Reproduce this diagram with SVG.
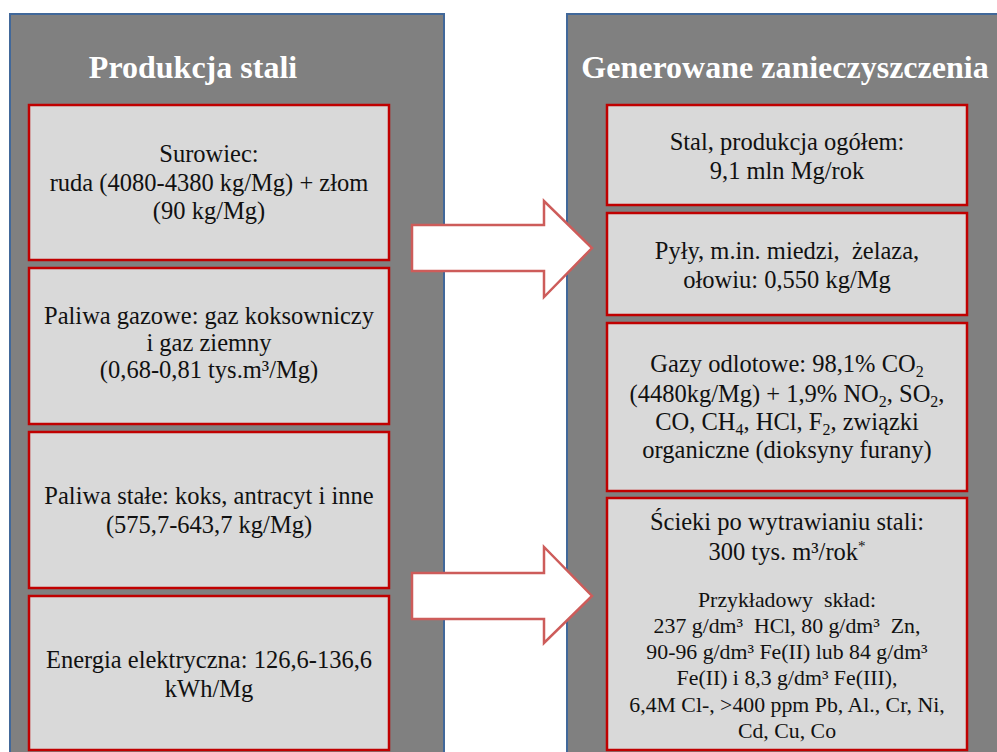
<svg xmlns="http://www.w3.org/2000/svg" width="997" height="752" viewBox="0 0 997 752">
<style>
.panel{fill:#808080;stroke:#41689a;stroke-width:2}
.box{fill:#d9d9d9;stroke:#c00000;stroke-width:2.5}
.title{font-family:"Liberation Serif","Times New Roman",serif;font-weight:bold;font-size:32px;fill:#ffffff;text-anchor:middle}
.t{font-family:"Liberation Serif","Times New Roman",serif;font-size:24.5px;fill:#111;text-anchor:middle}
.s{font-family:"Liberation Serif","Times New Roman",serif;font-size:21.8px;fill:#111;text-anchor:middle}
.arrow{fill:#ffffff;stroke:#cd5c5a;stroke-width:2.5;stroke-linejoin:miter}
</style>
<rect width="997" height="752" fill="#ffffff"/>
<g id="panel-left">
<rect class="panel" x="10" y="14" width="434" height="750"/>
<text class="title" x="193" y="78">Produkcja stali</text>
</g>
<g id="panel-right">
<rect class="panel" x="567" y="14" width="440" height="750"/>
<text class="title" x="785" y="78">Generowane zanieczyszczenia</text>
</g>
<g id="surowiec">
<rect class="box" x="29" y="105" width="360" height="155"/>
<text class="t" x="209" y="162">Surowiec:</text>
<text class="t" x="209" y="191">ruda (4080-4380 kg/Mg) + złom</text>
<text class="t" x="209" y="219">(90 kg/Mg)</text>
</g>
<g id="paliwa-gazowe">
<rect class="box" x="29" y="268" width="360" height="156"/>
<text class="t" x="209" y="324">Paliwa gazowe: gaz koksowniczy</text>
<text class="t" x="209" y="351">i gaz ziemny</text>
<text class="t" x="209" y="378">(0,68-0,81 tys.m³/Mg)</text>
</g>
<g id="paliwa-stale">
<rect class="box" x="29" y="432" width="360" height="156"/>
<text class="t" x="209" y="504">Paliwa stałe: koks, antracyt i inne</text>
<text class="t" x="209" y="533">(575,7-643,7 kg/Mg)</text>
</g>
<g id="energia">
<rect class="box" x="29" y="596" width="360" height="154"/>
<text class="t" x="209" y="668">Energia elektryczna: 126,6-136,6</text>
<text class="t" x="209" y="697">kWh/Mg</text>
</g>
<g id="stal">
<rect class="box" x="607" y="105" width="360" height="100"/>
<text class="t" x="787" y="150">Stal, produkcja ogółem:</text>
<text class="t" x="787" y="179">9,1 mln Mg/rok</text>
</g>
<g id="pyly">
<rect class="box" x="607" y="213" width="360" height="102"/>
<text class="t" x="787" y="259">Pyły, m.in. miedzi,&#160; żelaza,</text>
<text class="t" x="787" y="288">ołowiu: 0,550 kg/Mg</text>
</g>
<g id="gazy">
<rect class="box" x="607" y="323" width="360" height="168"/>
<text class="t" x="787" y="372">Gazy odlotowe: 98,1% CO<tspan font-size="16" dy="5">2</tspan></text>
<text class="t" x="787" y="402">(4480kg/Mg) + 1,9% NO<tspan font-size="16" dy="5">2</tspan><tspan dy="-5">, SO</tspan><tspan font-size="16" dy="5">2</tspan><tspan dy="-5">,</tspan></text>
<text class="t" x="787" y="430">CO, CH<tspan font-size="16" dy="5">4</tspan><tspan dy="-5">, HCl, F</tspan><tspan font-size="16" dy="5">2</tspan><tspan dy="-5">, związki</tspan></text>
<text class="t" x="787" y="458">organiczne (dioksyny furany)</text>
</g>
<g id="scieki">
<rect class="box" x="607" y="498" width="360" height="252"/>
<text class="t" x="787" y="530">Ścieki po wytrawianiu stali:</text>
<text class="t" x="787" y="560">300 tys. m³/rok<tspan font-size="15" dy="-9">*</tspan></text>
<text class="s" x="787" y="607">Przykładowy&#160; skład:</text>
<text class="s" x="787" y="633">237 g/dm³&#160; HCl, 80 g/dm³&#160; Zn,</text>
<text class="s" x="787" y="659">90-96 g/dm³ Fe(II) lub 84 g/dm³</text>
<text class="s" x="787" y="685">Fe(II) i 8,3 g/dm³ Fe(III),</text>
<text class="s" x="787" y="712">6,4M Cl-, &gt;400 ppm Pb, Al., Cr, Ni,</text>
<text class="s" x="787" y="738">Cd, Cu, Co</text>
</g>
<g id="connectors">
<path class="arrow" d="M412,225 L544,225 L544,201 L592,248 L544,297 L544,271 L412,271 Z"/>
<path class="arrow" d="M412,573 L544,573 L544,547 L592,596 L544,643 L544,619 L412,619 Z"/>
</g>
</svg>
